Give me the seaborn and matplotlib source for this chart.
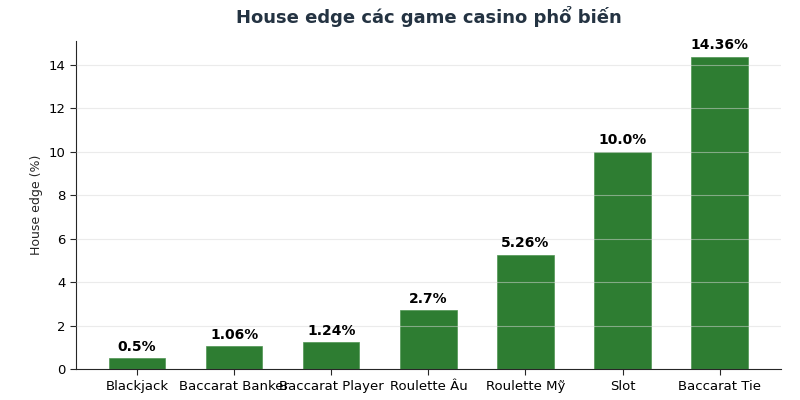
import matplotlib
matplotlib.use("Agg")
import matplotlib.pyplot as plt
import seaborn as sns
import pandas as pd

games = ["Blackjack", "Baccarat Banker", "Baccarat Player", "Roulette Âu", "Roulette Mỹ", "Slot", "Baccarat Tie"]
edges = [0.5, 1.06, 1.24, 2.7, 5.26, 10.0, 14.36]
labels = ["0.5%", "1.06%", "1.24%", "2.7%", "5.26%", "10.0%", "14.36%"]

df = pd.DataFrame({"game": games, "edge": edges})

sns.set_style("white")
plt.rcParams['font.family'] = ['DejaVu Sans']

fig, ax = plt.subplots(figsize=(8, 4), dpi=100)
sns.barplot(data=df, x="game", y="edge", color="#2e7d32", saturation=1, width=0.58, ax=ax,
            zorder=1, edgecolor="#4f9553", linewidth=0.5)
ax.set_xlim(-0.63, len(games) - 1 + 0.63)
ax.set_ylim(0, max(edges) * 1.05)
ax.yaxis.grid(True, color="#d8d8d8", linewidth=0.8, alpha=0.5, zorder=3)
ax.set_axisbelow(False)
for i, (v, t) in enumerate(zip(edges, labels)):
    ax.text(i, v + 0.2, t, ha="center", va="bottom", fontsize=10, fontweight="bold", color="black")
ax.set_title("House edge các game casino phổ biến", fontsize=13, fontweight="bold", color="#243342", pad=13)
ax.set_xlabel("")
ax.set_ylabel("House edge (%)", fontsize=9)
ax.tick_params(axis="both", labelsize=9.5, length=4, left=True, bottom=True, labelcolor="black")
sns.despine(ax=ax)
fig.subplots_adjust(left=0.095, right=0.976, top=0.897, bottom=0.077)
fig.savefig("out.png", dpi=100)
